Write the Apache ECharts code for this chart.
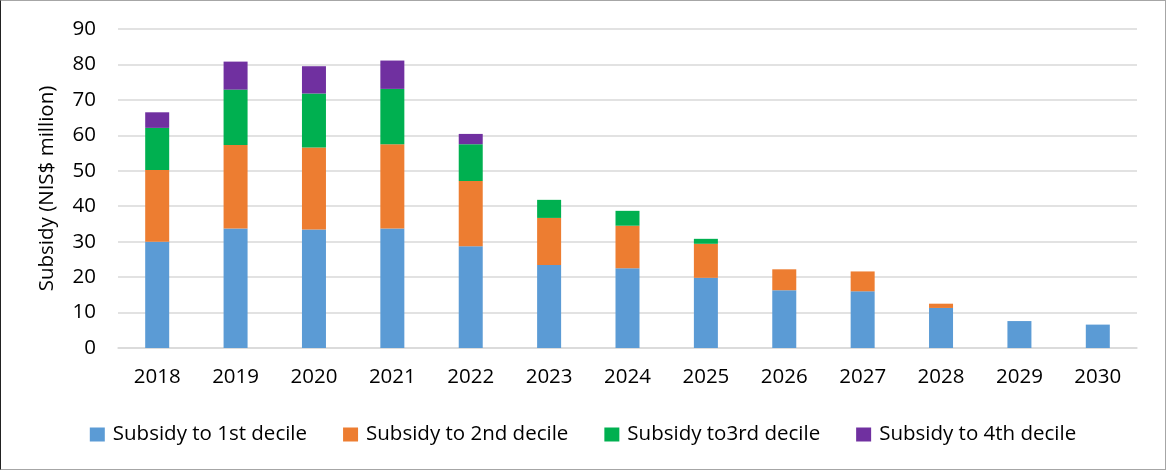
<!DOCTYPE html>
<html>
<head>
<meta charset="utf-8">
<style>
  html, body { margin: 0; padding: 0; background: #fff; }
  #chart { width: 1164px; height: 468px; border: 1px solid #a6a6a6; border-left-color: #222; }
</style>
<script src="https://cdn.jsdelivr.net/npm/echarts@6/dist/echarts.min.js"></script>
</head>
<body>
<div id="chart"></div>
<script>
// Annual subsidy by income decile, NIS$ million
const years = ['2018','2019','2020','2021','2022','2023','2024','2025','2026','2027','2028','2029','2030'];
const decile1 = [30.0, 33.7, 33.4, 33.7, 28.7, 23.4, 22.5, 19.8, 16.3, 16.0, 11.3, 7.6, 6.6];
const decile2 = [20.2, 23.6, 23.2, 23.8, 18.4, 13.3, 12.0, 9.6, 5.9, 5.6, 1.2, 0, 0];
const decile3 = [11.9, 15.6, 15.2, 15.6, 10.4, 5.1, 4.2, 1.4, 0, 0, 0, 0, 0];
const decile4 = [4.4, 7.9, 7.7, 8.0, 2.9, 0, 0, 0, 0, 0, 0, 0, 0];
const seriesNames = ['Subsidy to 1st decile', 'Subsidy to 2nd decile', 'Subsidy to3rd decile', 'Subsidy to 4th decile'];
const yTicks = { min: 0, max: 90, interval: 10 };

const colors = ['#5B9BD5', '#ED7D31', '#00B050', '#7030A0'];
const font = '"Open Sans", "Noto Sans", sans-serif';
const textColor = '#000';
const fontSize = 20.5;

const chart = echarts.init(document.getElementById('chart'));
const values = [decile1, decile2, decile3, decile4];

chart.setOption({
  animation: false,
  color: colors,
  textStyle: { fontFamily: font },
  grid: { left: 117, right: 28, top: 28, bottom: 121, containLabel: false, outerBoundsMode: 'none' },
  legend: {
    data: seriesNames,
    left: 'center',
    top: 418,
    icon: 'rect',
    itemWidth: 15,
    itemHeight: 14,
    itemGap: 36,
    textStyle: { fontFamily: font, fontSize: fontSize, color: textColor, padding: [0, 0, 0, 3] }
  },
  xAxis: {
    type: 'category',
    data: years,
    axisLine: { show: true, lineStyle: { color: '#d9d9d9', width: 1.5 } },
    axisTick: { show: false },
    axisLabel: { fontFamily: font, fontSize: fontSize, color: textColor, margin: 19 }
  },
  yAxis: {
    type: 'value',
    min: yTicks.min,
    max: yTicks.max,
    interval: yTicks.interval,
    name: 'Subsidy (NIS$ million)',
    nameLocation: 'middle',
    nameGap: 60,
    nameTextStyle: { fontFamily: font, fontSize: fontSize, color: textColor },
    axisLine: { show: false },
    axisTick: { show: false },
    splitLine: { lineStyle: { color: '#d9d9d9', width: 1.5 } },
    axisLabel: { fontFamily: font, fontSize: fontSize, color: textColor, margin: 22 }
  },
  series: seriesNames.map((name, i) => ({
    name,
    type: 'bar',
    stack: 'total',
    barWidth: 24,
    data: values[i].map(v => (v === 0 ? null : v)),
    itemStyle: { color: colors[i] }
  }))
});
</script>
</body>
</html>
